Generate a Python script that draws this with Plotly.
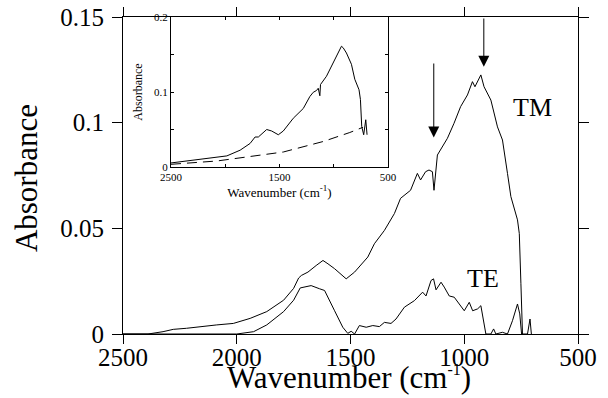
import plotly.graph_objects as go

# Main spectrum: TM polarisation
tm_wn = [2500, 2390, 2324, 2279, 2221, 2162, 2088, 2015, 1941, 1868, 1794, 1750, 1728, 1716, 1687,
         1651, 1621, 1599, 1570, 1519, 1482, 1424, 1395, 1351, 1307, 1280, 1236, 1206, 1192, 1170,
         1155, 1140, 1133, 1118, 1089, 1074, 1045, 1016, 986, 964, 953, 927, 913, 883, 854, 832,
         810, 795, 766, 758, 751, 744]
tm_abs = [0, 0, 0.0011, 0.0022, 0.0027, 0.0035, 0.0043, 0.005, 0.0074, 0.0106, 0.016, 0.0216, 0.0265,
          0.0277, 0.0293, 0.0324, 0.0348, 0.0332, 0.0309, 0.0261, 0.0293, 0.0364, 0.0427, 0.049,
          0.057, 0.0642, 0.068, 0.076, 0.0729, 0.0768, 0.0776, 0.0768, 0.068, 0.0847, 0.090, 0.0926,
          0.0997, 0.1076, 0.1131, 0.1194, 0.117, 0.1226, 0.117, 0.1107, 0.098, 0.0918, 0.076, 0.065,
          0.054, 0.0475, 0.024, 0]

# Main spectrum: TE polarisation
te_wn = [2500, 2000, 1926, 1868, 1794, 1750, 1721, 1673, 1636, 1614, 1570, 1534, 1512, 1497, 1482,
         1461, 1431, 1402, 1373, 1351, 1322, 1300, 1263, 1219, 1183, 1168, 1146, 1135, 1124, 1102,
         1088, 1066, 1044, 1022, 1000, 978, 963, 941, 927, 905, 883, 871, 861, 832, 810, 788, 766,
         756, 748, 722, 711, 705]
te_abs = [0, 0, 0.0011, 0.0043, 0.0106, 0.016, 0.0218, 0.0229, 0.0214, 0.0206, 0.011, 0.0032, 0.0003,
          0.0013, 0, 0.004, 0.0032, 0.004, 0.0035, 0.0055, 0.005, 0.0071, 0.0127, 0.0158, 0.0198,
          0.018, 0.0253, 0.0261, 0.0209, 0.0245, 0.0222, 0.018, 0.0174, 0.0142, 0.011, 0.015, 0.011,
          0.0119, 0.0134, 0, 0, 0.0024, 0, 0.0008, 0, 0.0063, 0.0142, 0.0095, 0, 0, 0.0071, 0]

# Inset: raw spectrum and baseline
in_wn = [2500, 2230, 1985, 1863, 1771, 1725, 1695, 1618, 1572, 1511, 1465, 1373, 1281, 1220, 1189,
         1159, 1143, 1128, 1122, 1067, 1021, 975, 929, 913, 883, 837, 806, 767, 754, 742, 724, 705, 693]
in_abs = [0.0054, 0.0099, 0.0148, 0.0224, 0.0314, 0.040, 0.040, 0.050, 0.048, 0.043, 0.048, 0.065,
          0.078, 0.094, 0.0996, 0.102, 0.105, 0.095, 0.110, 0.121, 0.134, 0.148, 0.161, 0.159, 0.152,
          0.137, 0.117, 0.103, 0.090, 0.054, 0.043, 0.063, 0.043]
base_wn = [2500, 2077, 1465, 1097, 852, 730]
base_abs = [0.0036, 0.008, 0.020, 0.034, 0.046, 0.053]

main_ticks = [2500, 2000, 1500, 1000, 500]
main_yticks = [0, 0.05, 0.1, 0.15]
main_yticktext = ["0", "0.05", "0.1", "0.15"]
inset_xticks = [2500, 1500, 500]
inset_yticks = [0, 0.1, 0.2]
inset_yticktext = ["0", "0.1", "0.2"]

SERIF = "Liberation Serif, Times New Roman, serif"
line = dict(color="black", width=1)

fig = go.Figure()
fig.add_trace(go.Scatter(x=tm_wn, y=tm_abs, mode="lines", line=line, showlegend=False))
fig.add_trace(go.Scatter(x=te_wn, y=te_abs, mode="lines", line=line, showlegend=False))
fig.add_trace(go.Scatter(x=in_wn, y=in_abs, mode="lines", line=line, showlegend=False,
                         xaxis="x2", yaxis="y2"))
fig.add_trace(go.Scatter(x=base_wn, y=base_abs, mode="lines",
                         line=dict(color="black", width=1, dash="10px,6px"), showlegend=False,
                         xaxis="x2", yaxis="y2"))

fig.update_layout(
    width=608, height=398,
    margin=dict(l=123, r=30, t=17, b=64),
    paper_bgcolor="white", plot_bgcolor="white",
    font=dict(family=SERIF, color="black"),
    xaxis=dict(range=[2500, 500], tickvals=main_ticks, ticks="outside", ticklen=9,
               tickcolor="black", showline=True, linecolor="black", linewidth=1, mirror="ticks",
               showgrid=False, zeroline=False, tickfont=dict(size=25, family=SERIF),
               ticklabelstandoff=-8, automargin=False),
    yaxis=dict(range=[0, 0.15], tickvals=main_yticks, ticktext=main_yticktext, ticks="outside",
               ticklen=10, tickcolor="black", showline=True, linecolor="black", linewidth=1,
               mirror="ticks", showgrid=False, zeroline=False, automargin=False,
               tickfont=dict(size=25, family=SERIF), ticklabelstandoff=3),
    xaxis2=dict(domain=[0.1055, 0.5824], anchor="y2", range=[2500, 500], tickvals=inset_xticks,
                ticks="inside", ticklen=3, tickcolor="black",
                minor=dict(ticks="inside", ticklen=3, tickcolor="black", tickvals=[2000, 1000]),
                showline=True, linecolor="black", linewidth=1, mirror="ticks", showgrid=False,
                zeroline=False, tickfont=dict(size=11, family=SERIF),
                title=dict(text="Wavenumber (cm<sup>-1</sup>)", font=dict(size=13, family=SERIF),
                           standoff=0)),
    yaxis2=dict(domain=[0.5268, 1.0], anchor="x2", range=[0, 0.2], tickvals=inset_yticks,
                ticktext=inset_yticktext, ticks="inside", ticklen=3, tickcolor="black",
                minor=dict(ticks="inside", ticklen=3, tickcolor="black", tickvals=[0.05, 0.15]),
                showline=True, linecolor="black", linewidth=1, mirror="ticks", showgrid=False,
                zeroline=False, tickfont=dict(size=11, family=SERIF),
                title=dict(text="Absorbance", font=dict(size=12, family=SERIF), standoff=8)),
)

# main axis titles
fig.add_annotation(x=0.4967, y=-0.137, xref="paper", yref="paper", xanchor="center",
                   yanchor="middle",
                   text="Wavenumber (cm<sup><span style='font-size:16px'>-1</span></sup>)",
                   showarrow=False, font=dict(size=31, family=SERIF))
fig.add_annotation(x=-0.213, y=0.492, xref="paper", yref="paper", xanchor="center",
                   yanchor="middle", text="Absorbance", textangle=-90, showarrow=False,
                   font=dict(size=31, family=SERIF))

fig.add_annotation(x=1134, y=0.093, ax=1134, ay=0.1287, xref="x", yref="y", axref="x", ayref="y",
                   showarrow=True, arrowhead=2, arrowsize=2.2, arrowwidth=1, arrowcolor="black",
                   text="")
fig.add_annotation(x=914, y=0.1264, ax=914, ay=0.15, xref="x", yref="y", axref="x", ayref="y",
                   showarrow=True, arrowhead=2, arrowsize=2.2, arrowwidth=1, arrowcolor="black",
                   text="")
fig.add_annotation(x=700, y=0.107, xref="x", yref="y", text="TM", showarrow=False,
                   font=dict(size=26, family=SERIF))
fig.add_annotation(x=918, y=0.0265, xref="x", yref="y", text="TE", showarrow=False,
                   font=dict(size=26, family=SERIF))

fig.write_html("out.html")
